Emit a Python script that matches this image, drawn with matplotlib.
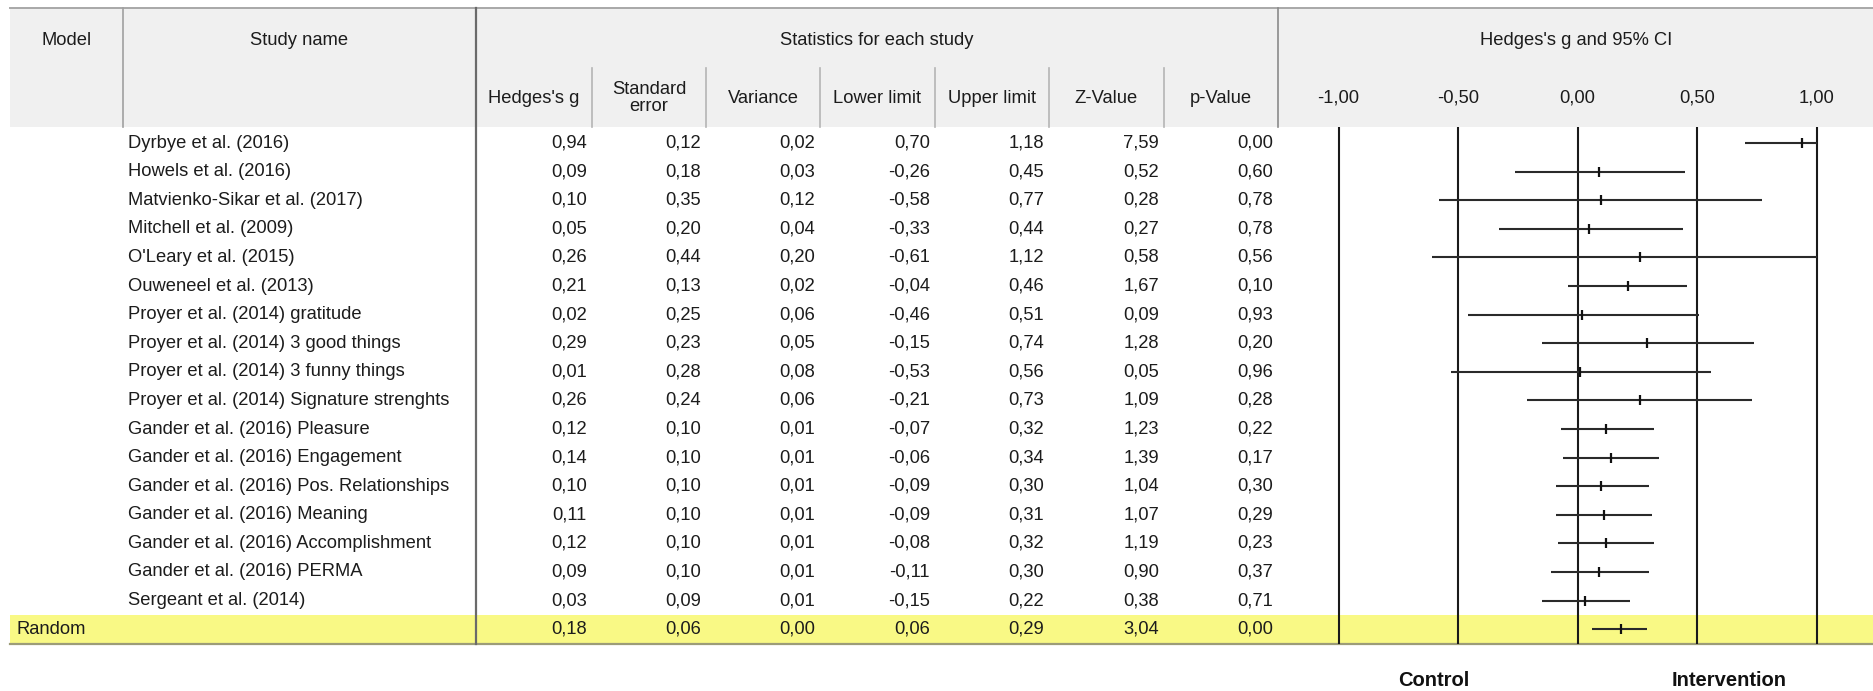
import numpy as np
import matplotlib
matplotlib.use("Agg")
import matplotlib.pyplot as plt
from matplotlib.patches import Rectangle
from matplotlib.transforms import blended_transform_factory

# ---- data -----------------------------------------------------------------
studies = [
    "Dyrbye et al. (2016)",
    "Howels et al. (2016)",
    "Matvienko-Sikar et al. (2017)",
    "Mitchell et al. (2009)",
    "O'Leary et al. (2015)",
    "Ouweneel et al. (2013)",
    "Proyer et al. (2014) gratitude",
    "Proyer et al. (2014) 3 good things",
    "Proyer et al. (2014) 3 funny things",
    "Proyer et al. (2014) Signature strenghts",
    "Gander et al. (2016) Pleasure",
    "Gander et al. (2016) Engagement",
    "Gander et al. (2016) Pos. Relationships",
    "Gander et al. (2016) Meaning",
    "Gander et al. (2016) Accomplishment",
    "Gander et al. (2016) PERMA",
    "Sergeant et al. (2014)",
]
hedges_g = [0.94, 0.09, 0.10, 0.05, 0.26, 0.21, 0.02, 0.29, 0.01, 0.26,
            0.12, 0.14, 0.10, 0.11, 0.12, 0.09, 0.03]
std_error = [0.12, 0.18, 0.35, 0.20, 0.44, 0.13, 0.25, 0.23, 0.28, 0.24,
             0.10, 0.10, 0.10, 0.10, 0.10, 0.10, 0.09]
variance = [0.02, 0.03, 0.12, 0.04, 0.20, 0.02, 0.06, 0.05, 0.08, 0.06,
            0.01, 0.01, 0.01, 0.01, 0.01, 0.01, 0.01]
lower_limit = [0.70, -0.26, -0.58, -0.33, -0.61, -0.04, -0.46, -0.15, -0.53, -0.21,
               -0.07, -0.06, -0.09, -0.09, -0.08, -0.11, -0.15]
upper_limit = [1.18, 0.45, 0.77, 0.44, 1.12, 0.46, 0.51, 0.74, 0.56, 0.73,
               0.32, 0.34, 0.30, 0.31, 0.32, 0.30, 0.22]
z_value = [7.59, 0.52, 0.28, 0.27, 0.58, 1.67, 0.09, 1.28, 0.05, 1.09,
           1.23, 1.39, 1.04, 1.07, 1.19, 0.90, 0.38]
p_value = [0.00, 0.60, 0.78, 0.78, 0.56, 0.10, 0.93, 0.20, 0.96, 0.28,
           0.22, 0.17, 0.30, 0.29, 0.23, 0.37, 0.71]

model_label = "Random"
pooled = [0.18, 0.06, 0.00, 0.06, 0.29, 3.04, 0.00]   # g, SE, var, LL, UL, Z, p

stat_headers = ["Hedges's g", "Standard\nerror", "Variance", "Lower limit",
                "Upper limit", "Z-Value", "p-Value"]
axis_ticks = [-1.0, -0.5, 0.0, 0.5, 1.0]
axis_ticklabels = ["-1,00", "-0,50", "0,00", "0,50", "1,00"]
favours = ["Control", "Intervention"]

# ---- layout (pixels) ------------------------------------------------------
W, H = 1874, 691
plt.rcParams["font.family"] = ["Liberation Sans", "DejaVu Sans"]
TXT = "#1c1c1c"
FS = 13.2          # points at dpi=100
HDR_FILL = "#f0f0f0"

tbl_left, tbl_top, hdr_bottom, tbl_bottom = 10, 8, 127, 644
col_model, col_study, col_plot = 123, 476, 1278
stat_edges = [476, 592, 706, 820, 935, 1049, 1164, 1278]
row0, pitch = 143.0, 28.6

fig = plt.figure(figsize=(W / 100, H / 100), dpi=100)
ax = fig.add_axes([0, 0, 1, 1])
ax.set_xlim(0, W)
ax.set_ylim(H, 0)
ax.axis("off")

# header background and the pooled row highlight
ax.add_patch(Rectangle((tbl_left, tbl_top), W - tbl_left, hdr_bottom - tbl_top,
                       facecolor=HDR_FILL, edgecolor="none", zorder=0))
n = len(studies)
y_pool = row0 + pitch * n
ax.add_patch(Rectangle((tbl_left, y_pool - pitch / 2), W - tbl_left, tbl_bottom - (y_pool - pitch / 2),
                       facecolor="#f9f985", edgecolor="none", zorder=0))

# border lines
ax.plot([tbl_left, W], [tbl_top, tbl_top], color="#a8a8a8", lw=1.4, zorder=1)
ax.plot([tbl_left, W], [tbl_bottom, tbl_bottom], color="#9c9c78", lw=1.6, zorder=1)
ax.plot([col_model, col_model], [tbl_top, hdr_bottom], color="#a0a0a0", lw=1.2, zorder=1)
ax.plot([col_study, col_study], [tbl_top, tbl_bottom], color="#6a6a6a", lw=1.6, zorder=1)
ax.plot([col_plot, col_plot], [tbl_top, hdr_bottom], color="#8a8a8a", lw=1.2, zorder=1)
for xe in stat_edges[1:-1]:
    ax.plot([xe, xe], [68, hdr_bottom], color="#b4b4b4", lw=1.2, zorder=1)

# header text
ax.text((tbl_left + col_model) / 2, 40, "Model", ha="center", va="center", fontsize=FS, color=TXT)
ax.text((col_model + col_study) / 2, 40, "Study name", ha="center", va="center", fontsize=FS, color=TXT)
ax.text((col_study + col_plot) / 2, 40, "Statistics for each study", ha="center", va="center",
        fontsize=FS, color=TXT)
ax.text((col_plot + W) / 2, 40, "Hedges's g and 95% CI", ha="center", va="center", fontsize=FS, color=TXT)
for i, lab in enumerate(stat_headers):
    xc = (stat_edges[i] + stat_edges[i + 1]) / 2
    ax.text(xc, 98, lab, ha="center", va="center", fontsize=FS, color=TXT, linespacing=1.05)


def fmt(v):
    return f"{v:.2f}".replace(".", ",")


columns = [hedges_g, std_error, variance, lower_limit, upper_limit, z_value, p_value]
for r in range(n):
    y = row0 + pitch * r
    ax.text(128, y, studies[r], ha="left", va="center", fontsize=FS, color=TXT)
    for c, vals in enumerate(columns):
        ax.text(stat_edges[c + 1] - 5, y, fmt(vals[r]), ha="right", va="center", fontsize=FS, color=TXT)

ax.text(17, y_pool, model_label, ha="left", va="center", fontsize=FS, color=TXT)
for c, v in enumerate(pooled):
    ax.text(stat_edges[c + 1] - 5, y_pool, fmt(v), ha="right", va="center", fontsize=FS, color=TXT)

# ---- forest plot ----------------------------------------------------------
px0, px_per_unit = 1577.5, 239.0
fax = fig.add_axes([col_plot / W, 1 - tbl_bottom / H, (W - col_plot) / W, (tbl_bottom - hdr_bottom) / H])
fax.set_facecolor("none")
fax.set_xlim((col_plot - px0) / px_per_unit, (W - px0) / px_per_unit)
fax.set_ylim((tbl_bottom - row0) / pitch, (hdr_bottom - row0) / pitch)
for s in fax.spines.values():
    s.set_visible(False)
fax.set_xticks([])
fax.set_yticks([])

for t in axis_ticks:
    fax.axvline(t, color="#1a1a1a", lw=1.5, zorder=1)

g_all = np.array(hedges_g + [pooled[0]])
lo_all = np.clip(np.array(lower_limit + [pooled[3]]), -1, 1)
hi_all = np.clip(np.array(upper_limit + [pooled[4]]), -1, 1)
rows = np.arange(len(g_all))
fax.hlines(rows, lo_all, hi_all, color="#2a2a2a", lw=1.5, zorder=2)
fax.plot(g_all, rows, linestyle="none", marker="|", markersize=7.5, markeredgewidth=1.6,
         color="#111111", zorder=3)

tr = blended_transform_factory(fax.transData, fax.transAxes)
for t, lab in zip(axis_ticks, axis_ticklabels):
    fax.text(t, (tbl_bottom - 98) / (tbl_bottom - hdr_bottom), lab, transform=tr,
             ha="center", va="center", fontsize=FS, color=TXT, clip_on=False)

# favours labels below the plot
ax.text(1434, 680, favours[0], ha="center", va="center", fontsize=14.5, fontweight="bold", color="#111111")
ax.text(1729, 680, favours[1], ha="center", va="center", fontsize=14.5, fontweight="bold", color="#111111")

fig.savefig("out.png", dpi=100, facecolor="white")
